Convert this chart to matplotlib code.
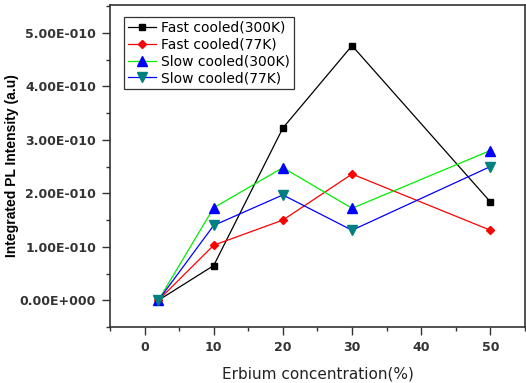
import matplotlib.pyplot as plt
from matplotlib.ticker import FuncFormatter, MultipleLocator

plt.rcParams['font.family'] = ['DejaVu Sans']

# Data
erbium = [2, 10, 20, 30, 50]
fast_300k = [0.0, 0.65e-10, 3.22e-10, 4.76e-10, 1.84e-10]
fast_77k = [0.0, 1.03e-10, 1.50e-10, 2.36e-10, 1.31e-10]
slow_300k = [0.0, 1.73e-10, 2.48e-10, 1.72e-10, 2.80e-10]
slow_77k = [0.0, 1.40e-10, 1.97e-10, 1.31e-10, 2.50e-10]

labels = ['Fast cooled(300K)', 'Fast cooled(77K)', 'Slow cooled(300K)', 'Slow cooled(77K)']
x_ticks = [0, 10, 20, 30, 40, 50]
y_ticks = [0.0, 1e-10, 2e-10, 3e-10, 4e-10, 5e-10]

fig = plt.figure(figsize=(5.26, 3.83), dpi=100)
ax = fig.add_axes([0.209, 0.146, 0.789, 0.841])

ax.plot(erbium, fast_300k, color='black', lw=0.9, marker='s', ms=5,
        mfc='black', mec='black', label=labels[0])
ax.plot(erbium, fast_77k, color='red', lw=0.9, marker='D', ms=4,
        mfc='red', mec='red', label=labels[1])
ax.plot(erbium, slow_300k, color='#00ee00', lw=0.9, marker='^', ms=7,
        mfc='blue', mec='blue', label=labels[2])
ax.plot(erbium, slow_77k, color='blue', lw=0.9, marker='v', ms=7,
        mfc='#008080', mec='#008080', label=labels[3])

ax.set_xlim(-5, 55)
ax.set_ylim(-0.5e-10, 5.52e-10)
ax.set_xticks(x_ticks)
ax.set_yticks(y_ticks)
ax.xaxis.set_minor_locator(MultipleLocator(5))
ax.yaxis.set_minor_locator(MultipleLocator(0.5e-10))


def sci_fmt(v, pos):
    if abs(v) < 1e-15:
        return '0.00E+000'
    m, e = f'{v:.2E}'.split('E')
    sign = '-' if int(e) < 0 else '+'
    return f'{m}E{sign}{abs(int(e)):03d}'


ax.yaxis.set_major_formatter(FuncFormatter(sci_fmt))

for s in ax.spines.values():
    s.set_linewidth(1.2)
    s.set_color('#333333')

ax.tick_params(which='both', direction='out', width=1.0, colors='#333333')
ax.tick_params(which='major', length=6, labelsize=9, pad=4)
ax.tick_params(which='minor', length=3)
for t in ax.get_xticklabels() + ax.get_yticklabels():
    t.set_fontweight('bold')
    t.set_color('#333333')

ax.set_ylabel('Integrated PL Intensity (a.u)', fontsize=10, fontweight='bold',
              family='Liberation Sans')
ax.yaxis.set_label_coords(-0.218, 0.5)
ax.set_xlabel('Erbium concentration(%)', fontsize=11, labelpad=9, color='#222222')

leg = ax.legend(loc='upper left', bbox_to_anchor=(0.017, 0.985), fontsize=10,
                frameon=True, fancybox=False, edgecolor='black',
                handlelength=2.0, handletextpad=0.4, borderpad=0.3,
                labelspacing=0.2)
leg.get_frame().set_linewidth(0.9)

fig.savefig('out.png', dpi=100)
